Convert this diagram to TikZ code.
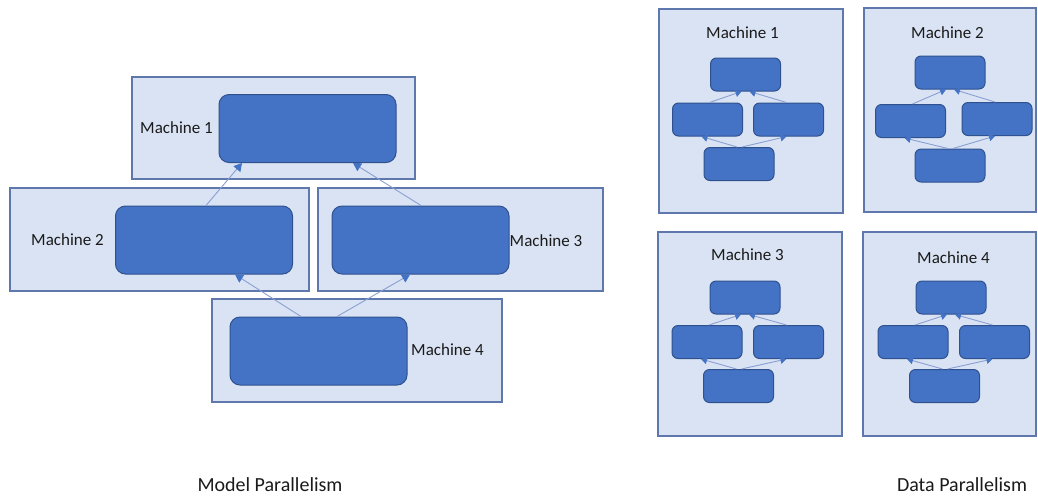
\documentclass[tikz,border=0pt]{standalone}
\usepackage{fontspec}
\setmainfont{Carlito}
\usetikzlibrary{arrows.meta}
\definecolor{outerfill}{HTML}{DAE3F3}
\definecolor{outerdraw}{HTML}{5E78AE}
\definecolor{innerfill}{HTML}{4472C4}
\definecolor{innerdraw}{HTML}{2F528F}
\definecolor{linec}{HTML}{8A9FD3}
\definecolor{tipc}{HTML}{4472C4}
\definecolor{textc}{HTML}{1A1A1A}
\tikzset{
  outerbox/.style={draw=outerdraw, fill=outerfill, line width=1.3pt, inner sep=0pt},
  bigbox/.style={draw=innerdraw, fill=innerfill, line width=1pt, rounded corners=10pt, inner sep=0pt, minimum width=177pt, minimum height=68pt},
  smallbox/.style={draw=innerdraw, fill=innerfill, line width=1pt, rounded corners=6pt, inner sep=0pt, minimum width=70pt, minimum height=33pt},
  lbl/.style={text=textc, font=\fontsize{17}{20}\selectfont, inner sep=0pt},
  captionlbl/.style={text=textc, font=\fontsize{20}{24}\selectfont, inner sep=0pt},
  bigarrow/.style={draw=linec, line width=0.9pt, -{Triangle[length=8pt,width=9pt,color=tipc]}},
  smallarrow/.style={draw=linec, line width=0.9pt, -{Triangle[length=6pt,width=7pt,color=tipc]}},
}
\begin{document}
\begin{tikzpicture}[x=1pt,y=-1pt]
\useasboundingbox (0,0) rectangle (1038,499);
% ---------- Model parallelism ----------
\node[outerbox, minimum width=283pt, minimum height=102pt] (o1) at (273.5,128) {};
\node[outerbox, minimum width=299pt, minimum height=103pt] (o2) at (159.5,239.5) {};
\node[outerbox, minimum width=285pt, minimum height=103pt] (o3) at (460.5,239.5) {};
\node[outerbox, minimum width=290pt, minimum height=103pt] (o4) at (357,350.5) {};
\node[bigbox] (b1) at (307.5,128.5) {};
\node[bigbox] (b2) at (204,240) {};
\node[bigbox] (b3) at (420.5,240) {};
\node[bigbox] (b4) at (318.5,351) {};
\node[lbl] (l1) at (176.5,128) {Machine 1};
\node[lbl] (l2) at (67.5,240) {Machine 2};
\node[lbl] (l3) at (546,241) {Machine 3};
\node[lbl] (l4) at (447.5,350) {Machine 4};
\draw[bigarrow] ([xshift=2pt]b2.north) -- ([xshift=-65.5pt]b1.south);
\draw[bigarrow] ([xshift=0.5pt]b3.north) -- ([xshift=45.5pt]b1.south);
\draw[bigarrow] ([xshift=-17.5pt]b4.north) -- ([xshift=31pt]b2.south);
\draw[bigarrow] ([xshift=18.5pt]b4.north) -- ([xshift=-10.5pt]b3.south);
\node[captionlbl] (c1) at (270,485) {Model Parallelism};
% ---------- Data parallelism ----------
\node[outerbox, minimum width=184pt, minimum height=204pt] (d1) at (751,111) {};
\node[outerbox, minimum width=172pt, minimum height=204pt] (d2) at (950,110) {};
\node[outerbox, minimum width=184pt, minimum height=204pt] (d3) at (750,334) {};
\node[outerbox, minimum width=173pt, minimum height=204pt] (d4) at (949.5,334) {};
\node[lbl] (dl1) at (742.5,33) {Machine 1};
\node[lbl] (dl2) at (947.5,33) {Machine 2};
\node[lbl] (dl3) at (747.5,255) {Machine 3};
\node[lbl] (dl4) at (953.5,258) {Machine 4};
% machine 1
\node[smallbox] (t1) at (745.5,74.5) {};
\node[smallbox] (a1) at (707.5,119.5) {};
\node[smallbox] (r1) at (788.5,119.5) {};
\node[smallbox] (u1) at (739,164) {};
% machine 2
\node[smallbox] (t2) at (950,72.5) {};
\node[smallbox] (a2) at (910.5,121) {};
\node[smallbox] (r2) at (997,119) {};
\node[smallbox] (u2) at (950,165.5) {};
% machine 3
\node[smallbox] (t3) at (745,297.5) {};
\node[smallbox] (a3) at (707,342) {};
\node[smallbox] (r3) at (788.5,342) {};
\node[smallbox] (u3) at (738.5,386) {};
% machine 4
\node[smallbox] (t4) at (951,297.5) {};
\node[smallbox] (a4) at (913,342) {};
\node[smallbox] (r4) at (994.5,342) {};
\node[smallbox] (u4) at (944.5,386) {};
\foreach \i in {1,2,3,4}{
  \draw[smallarrow] ([xshift=2pt]a\i.north) -- ([xshift=-4pt]t\i.south);
  \draw[smallarrow] ([xshift=-2pt]r\i.north) -- ([xshift=4pt]t\i.south);
  \draw[smallarrow] ([xshift=-2pt]u\i.north) -- ([xshift=-6pt]a\i.south);
  \draw[smallarrow] ([xshift=3pt]u\i.north) -- ([xshift=-2pt]r\i.south);
}
\node[captionlbl] (c2) at (962,485) {Data Parallelism};
\end{tikzpicture}
\end{document}
